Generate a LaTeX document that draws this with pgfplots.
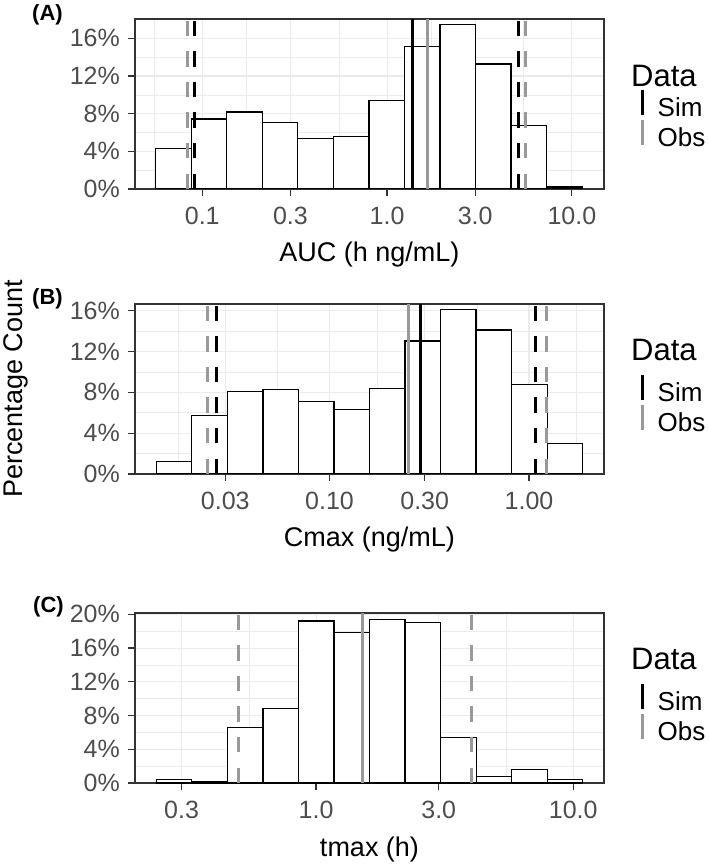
\documentclass[border=0pt]{standalone}
\usepackage{fontspec}
\setmainfont{Liberation Sans}
\usepackage{pgfplots}
\pgfplotsset{compat=1.18}
\definecolor{obsgray}{HTML}{999999}
\definecolor{gridc}{HTML}{EBEBEB}
\definecolor{tickc}{HTML}{4D4D4D}
\definecolor{framec}{HTML}{333333}
\pgfplotsset{
  histpanel/.style={
    scale only axis, width=469pt, height=170pt,
    axis line style={framec, line width=1.2pt},
    tick style={framec, line width=1.2pt},
    major tick length=7pt, minor tick length=0pt,
    tick align=outside, tick pos=left,
    grid=both,
    major grid style={gridc, line width=1.1pt},
    minor grid style={gridc, line width=0.55pt},
    ymin=0,
    ytick={0,4,8,12,16,20}, yticklabels={0\%,4\%,8\%,12\%,16\%,20\%},
    tick label style={font=\fontsize{25}{29}\selectfont, text=tickc},
    xticklabel style={inner sep=0pt, anchor=north, yshift=-11pt},
    yticklabel style={inner sep=0pt, anchor=east, xshift=-8pt},
    every axis x label/.style={at={(axis description cs:0.5,0)}, anchor=base, yshift=-73pt, font=\fontsize{27}{31}\selectfont},
    legend image code/.code={\draw[##1] (0pt,-7.6pt) -- (0pt,18.3pt);},
    legend style={at={(axis description cs:1.0778,0.4176)}, anchor=west, draw=none, fill=none, inner sep=0pt, row sep=0pt, column sep=14pt, font=\fontsize{26}{3}\selectfont, nodes={inner sep=0pt}},
    legend cell align=left,
  },
  histbars/.style={ybar interval, fill=white, draw=black, line width=1.2pt, forget plot},
  simd/.style={black, line width=3pt, dash pattern=on 15.3pt off 15.3pt, forget plot},
  obsd/.style={obsgray, line width=3pt, dash pattern=on 15.3pt off 15.3pt, forget plot},
  sims/.style={black, line width=3pt, forget plot},
  obss/.style={obsgray, line width=3pt, forget plot},
}
\begin{document}
\begin{tikzpicture}
\path[use as bounding box] (0,0) rectangle (709pt,865pt);
% Panel A
\begin{axis}[histpanel, xmode=log, log basis x=10, at={(135pt,676pt)}, anchor=south west,
  xmin=0.04325, xmax=14.93, ymax=18.05,
  xtick={0.1,0.3,1,3,10}, xticklabels={0.1,0.3,1.0,3.0,10.0},
  minor xtick={0.0548,0.1734,0.5483,1.7338,5.4828},
  minor ytick={2,6,10,14,18},
  xlabel={AUC (h ng/mL)}]
\addplot[histbars] coordinates {(0.0560,4.32) (0.08719,7.43) (0.13577,8.18) (0.2114,7.08) (0.32915,5.35) (0.51261,5.59) (0.7980,9.38) (1.2427,15.12) (1.9346,17.45) (3.0117,13.27) (4.6914,6.76) (7.3041,0.21) (11.370,0.21)};
\addplot[obsd] coordinates {(0.0835,0) (0.0835,18.05)};
\addplot[simd] coordinates {(0.0909,0) (0.0909,18.05)};
\addplot[sims] coordinates {(1.378,0) (1.378,18.05)};
\addplot[obss] coordinates {(1.66,0) (1.66,18.05)};
\addplot[simd] coordinates {(5.12,0) (5.12,18.05)};
\addplot[obsd] coordinates {(5.60,0) (5.60,18.05)};
\addlegendimage{black, line width=3pt}\addlegendentry{Sim}
\addlegendimage{obsgray, line width=3pt}\addlegendentry{Obs}
\end{axis}
% Panel B
\begin{axis}[histpanel, xmode=log, log basis x=10, at={(135pt,391pt)}, anchor=south west,
  xmin=0.010576, xmax=2.3774, ymax=16.66,
  xtick={0.03,0.1,0.3,1}, xticklabels={0.03,0.10,0.30,1.00},
  minor xtick={0.01734,0.0548,0.1734,0.5483,1.7338},
  minor ytick={2,6,10,14},
  xlabel={Cmax (ng/mL)}]
\addplot[histbars] coordinates {(0.013527,1.21) (0.020391,5.74) (0.030726,8.11) (0.046323,8.28) (0.069823,7.07) (0.10520,6.29) (0.15856,8.37) (0.23898,13.03) (0.36025,16.13) (0.54288,14.11) (0.81808,8.80) (1.2331,2.97) (1.8584,2.97)};
\addplot[obsd] coordinates {(0.02438,0) (0.02438,16.66)};
\addplot[simd] coordinates {(0.02705,0) (0.02705,16.66)};
\addplot[obss] coordinates {(0.2475,0) (0.2475,16.66)};
\addplot[sims] coordinates {(0.2850,0) (0.2850,16.66)};
\addplot[simd] coordinates {(1.081,0) (1.081,16.66)};
\addplot[obsd] coordinates {(1.225,0) (1.225,16.66)};
\addlegendimage{black, line width=3pt}\addlegendentry{Sim}
\addlegendimage{obsgray, line width=3pt}\addlegendentry{Obs}
\end{axis}
% Panel C
\begin{axis}[histpanel, xmode=log, log basis x=10, at={(135pt,82pt)}, anchor=south west,
  xmin=0.1977, xmax=13.17, ymax=20.16,
  xtick={0.3,1,3,10}, xticklabels={0.3,1.0,3.0,10.0},
  minor xtick={0.5483,1.7338,5.4828},
  minor ytick={2,6,10,14,18},
  xlabel={tmax (h)}]
\addplot[histbars] coordinates {(0.23926,0.39) (0.32892,0.12) (0.45216,6.62) (0.62145,8.79) (0.85409,19.22) (1.1740,17.88) (1.6140,19.42) (2.2182,19.04) (3.0497,5.38) (4.1914,0.81) (5.7610,1.58) (7.9188,0.39) (10.884,0.39)};
\addplot[sims] coordinates {(1.51,0) (1.51,20.16)};
\addplot[obsd] coordinates {(0.499,0) (0.499,20.16)};
\addplot[obss] coordinates {(1.51,0) (1.51,20.16)};
\addplot[obsd] coordinates {(4.013,0) (4.013,20.16)};
\addlegendimage{black, line width=3pt}\addlegendentry{Sim}
\addlegendimage{obsgray, line width=3pt}\addlegendentry{Obs}
\end{axis}
% titles and panel tags
\node[anchor=base west, inner sep=0pt, font=\fontsize{31}{34}\selectfont] at (631pt,778pt) {Data};
\node[anchor=base west, inner sep=0pt, font=\fontsize{31}{34}\selectfont] at (631pt,504pt) {Data};
\node[anchor=base west, inner sep=0pt, font=\fontsize{31}{34}\selectfont] at (631pt,195pt) {Data};
\node[anchor=base west, font=\bfseries\fontsize{22}{24}\selectfont, inner sep=0pt] at (32pt,844.5pt) {(A)};
\node[anchor=base west, font=\bfseries\fontsize{22}{24}\selectfont, inner sep=0pt] at (32pt,560pt) {(B)};
\node[anchor=base west, font=\bfseries\fontsize{22}{24}\selectfont, inner sep=0pt] at (33pt,252pt) {(C)};
\node[rotate=90, anchor=base, inner sep=0pt, font=\fontsize{27}{30}\selectfont] at (22pt,476pt) {Percentage Count};
\end{tikzpicture}
\end{document}
